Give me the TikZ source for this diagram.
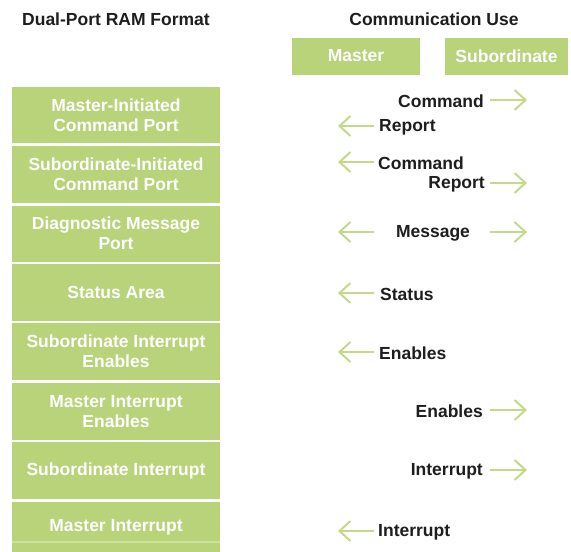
\documentclass[tikz,border=0pt]{standalone}
\usepackage{fontspec}
\setmainfont{Liberation Sans}
\usetikzlibrary{arrows.meta}
\definecolor{boxgreen}{RGB}{184,211,122}
\definecolor{stripe}{RGB}{205,226,155}
\definecolor{arrgreen}{RGB}{196,218,138}
\definecolor{txt}{RGB}{30,30,30}
\begin{document}
\begin{tikzpicture}[x=1pt,y=-1pt,
  ram/.style={fill=boxgreen,draw=none,minimum width=208pt,inner sep=0pt,
    text=white,font=\fontsize{17.5}{20}\selectfont\bfseries,align=center},
  usebox/.style={fill=boxgreen,draw=none,minimum height=37pt,inner sep=0pt,
    text=white,font=\fontsize{17.5}{20}\selectfont\bfseries},
  title/.style={text=txt,font=\fontsize{17.5}{20}\selectfont\bfseries,inner sep=0pt},
  lab/.style={text=txt,font=\fontsize{17.5}{20}\selectfont\bfseries,inner sep=0pt},
  flow/.style={draw=arrgreen,line width=2pt,-{Straight Barb[length=11pt,width=20pt]}}]
\useasboundingbox (0,0) rectangle (571,552);
\fill[white] (0,0) rectangle (571,552);
% titles
\node[title] (t1) at (116,19) {Dual-Port RAM Format};
\node[title] (t2) at (434,19) {Communication Use};
\node[usebox,minimum width=128pt] (master) at (356,56) {Master};
\node[usebox,minimum width=123pt] (sub) at (506.5,56) {Subordinate};
% RAM format boxes
\node[ram,minimum height=56pt] (b1) at (116,115) {Master-Initiated\\Command Port};
\node[ram,minimum height=57pt] (b2) at (116,174.5) {Subordinate-Initiated\\Command Port};
\node[ram,minimum height=56pt] (b3) at (116,233.5) {Diagnostic Message\\Port};
\node[ram,minimum height=57pt] (b4) at (116,292.5) {Status Area};
\node[ram,minimum height=57pt] (b5) at (116,351.5) {Subordinate Interrupt\\Enables};
\node[ram,minimum height=57pt] (b6) at (116,411.5) {Master Interrupt\\Enables};
\node[ram,minimum height=57pt] (b7) at (116,470.5) {Subordinate Interrupt};
\node[ram,minimum height=56pt] (b8) at (116,530) {};
\fill[stripe] (12,541) rectangle (220,543);
\node[text=white,font=\fontsize{17.5}{20}\selectfont\bfseries,inner sep=0pt] (b8t) at (116,527) {Master Interrupt};
% labels
\node[lab,anchor=east] (l1) at (484,101) {Command};
\node[lab,anchor=west] (l2) at (379,127) {Report};
\node[lab,anchor=west] (l3) at (378,163) {Command};
\node[lab,anchor=east] (l4) at (485,184) {Report};
\node[lab] (l5) at (433,233) {Message};
\node[lab,anchor=west] (l6) at (380,294) {Status};
\node[lab,anchor=west] (l7) at (379,353) {Enables};
\node[lab,anchor=east] (l8) at (483,411) {Enables};
\node[lab,anchor=east] (l9) at (483,471) {Interrupt};
\node[lab,anchor=west] (l10) at (378,532) {Interrupt};
% arrow ends
\foreach \n/\y in {1/100,4/183,5/232,8/410,9/470}{
  \coordinate (rs\n) at (490,\y);
  \coordinate (re\n) at (527,\y);
}
\foreach \n/\y in {2/126,3/162,5/232,6/293,7/352,10/531}{
  \coordinate (ls\n) at (374,\y);
  \coordinate (le\n) at (338,\y);
}
\foreach \n in {1,4,5,8,9}{\draw[flow] (rs\n) -- (re\n);}
\foreach \n in {2,3,5,6,7,10}{\draw[flow] (ls\n) -- (le\n);}
\end{tikzpicture}
\end{document}
